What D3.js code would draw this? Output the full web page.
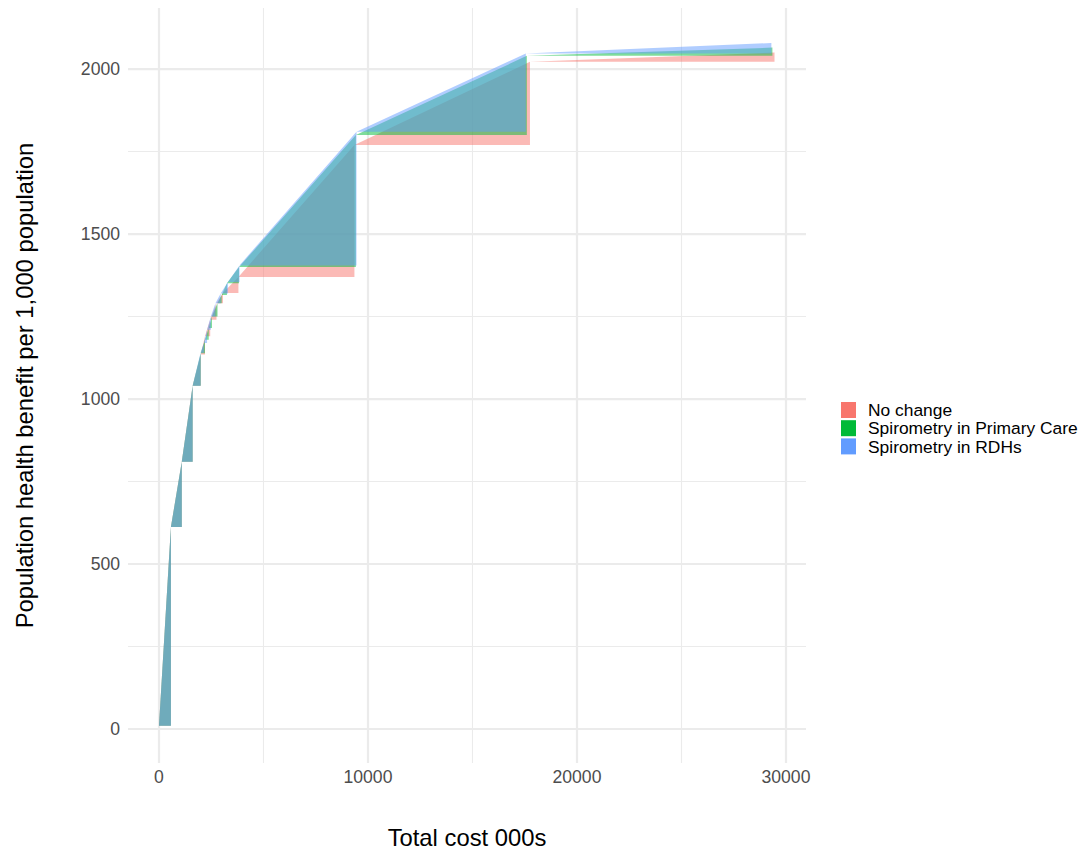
<!DOCTYPE html>
<html>
<head>
<meta charset="utf-8">
<script src="https://cdn.jsdelivr.net/npm/d3@7"></script>
<style>
  body { margin: 0; background: #fff; }
  svg { font-family: "Liberation Sans", Arial, sans-serif; }
</style>
</head>
<body>
<svg id="chart" width="1089" height="851"></svg>
<script>
// series (cost in 000s, population health benefit per 1,000 population)
const seriesNames = ["No change", "Spirometry in Primary Care", "Spirometry in RDHs"];
const seriesColors = ["#F8766D", "#00BA38", "#619CFF"];

const noChangeCost    = [0, 570, 1090, 1610, 2000, 2200, 2450, 2750, 3060, 3800, 9350, 17750, 29450];
const noChangeBenefit = [10, 612, 810, 1040, 1135, 1190, 1240, 1290, 1321, 1370, 1770, 2022, 2050];

const primaryCost    = [0, 570, 1090, 1610, 1995, 2200, 2380, 2535, 2800, 3000, 3250, 3830, 9420, 17600, 29350];
const primaryBenefit = [10, 612, 810, 1040, 1139, 1180, 1215, 1250, 1290, 1315, 1351, 1400, 1800, 2040, 2065];

const rdhCost    = [0, 570, 1090, 1610, 1990, 2150, 2300, 2480, 2700, 2950, 3300, 3850, 9450, 17550, 29300];
const rdhBenefit = [10, 612, 810, 1040, 1140, 1170, 1210, 1250, 1290, 1320, 1355, 1405, 1810, 2047, 2079];

const xTicks = [0, 10000, 20000, 30000];
const xMinor = [5000, 15000, 25000];
const yTicks = [0, 500, 1000, 1500, 2000];
const yMinor = [250, 750, 1250, 1750];

const series = [
  {name: seriesNames[0], color: seriesColors[0], cost: noChangeCost, benefit: noChangeBenefit},
  {name: seriesNames[1], color: seriesColors[1], cost: primaryCost, benefit: primaryBenefit},
  {name: seriesNames[2], color: seriesColors[2], cost: rdhCost, benefit: rdhBenefit}
];

const panel = {left: 128, right: 806, top: 8, bottom: 763};

const svg = d3.select("#chart");

const x = d3.scaleLinear().domain([-1483, 30957]).range([panel.left, panel.right]);
const y = d3.scaleLinear().domain([-103, 2185]).range([panel.bottom, panel.top]);

// grid
const grid = svg.append("g");
grid.selectAll("line.xminor").data(xMinor).enter().append("line")
  .attr("x1", d => x(d)).attr("x2", d => x(d))
  .attr("y1", panel.top).attr("y2", panel.bottom)
  .attr("stroke", "#EBEBEB").attr("stroke-width", 1.1);
grid.selectAll("line.yminor").data(yMinor).enter().append("line")
  .attr("y1", d => y(d)).attr("y2", d => y(d))
  .attr("x1", panel.left).attr("x2", panel.right)
  .attr("stroke", "#EBEBEB").attr("stroke-width", 1.1);
grid.selectAll("line.xmajor").data(xTicks).enter().append("line")
  .attr("x1", d => x(d)).attr("x2", d => x(d))
  .attr("y1", panel.top).attr("y2", panel.bottom)
  .attr("stroke", "#EBEBEB").attr("stroke-width", 2.2);
grid.selectAll("line.ymajor").data(yTicks).enter().append("line")
  .attr("y1", d => y(d)).attr("y2", d => y(d))
  .attr("x1", panel.left).attr("x2", panel.right)
  .attr("stroke", "#EBEBEB").attr("stroke-width", 2.2);

// one triangle per step: previous point, next point, corner below next point
function stepTriangles(s) {
  let p = "";
  for (let i = 1; i < s.cost.length; i++) {
    p += "M" + x(s.cost[i-1]) + "," + y(s.benefit[i-1]) +
         "L" + x(s.cost[i]) + "," + y(s.benefit[i]) +
         "L" + x(s.cost[i]) + "," + y(s.benefit[i-1]) + "Z";
  }
  return p;
}

svg.append("g").selectAll("path.area")
  .data(series)
  .enter().append("path")
  .attr("d", stepTriangles)
  .attr("fill", d => d.color)
  .attr("fill-opacity", 0.5)
  .attr("stroke", "none");

// axis labels
svg.append("g").selectAll("text.xt").data(xTicks).enter().append("text")
  .attr("x", d => x(d)).attr("y", 783)
  .attr("text-anchor", "middle")
  .attr("font-size", 17.6).attr("fill", "#4D4D4D")
  .text(d => d);

svg.append("g").selectAll("text.yt").data(yTicks).enter().append("text")
  .attr("x", 120).attr("y", d => y(d))
  .attr("dy", "0.36em")
  .attr("text-anchor", "end")
  .attr("font-size", 17.6).attr("fill", "#4D4D4D")
  .text(d => d);

svg.append("text")
  .attr("x", (panel.left + panel.right) / 2).attr("y", 846)
  .attr("text-anchor", "middle").attr("font-size", 23.8).attr("fill", "#000")
  .text("Total cost 000s");

svg.append("text")
  .attr("transform", `translate(33,${(panel.top + panel.bottom) / 2}) rotate(-90)`)
  .attr("text-anchor", "middle").attr("font-size", 23.8).attr("fill", "#000")
  .text("Population health benefit per 1,000 population");

// legend
const legend = svg.append("g").attr("transform", "translate(841,401)");
const item = legend.selectAll("g").data(series).enter().append("g")
  .attr("transform", (d, i) => `translate(0,${i * 18.2})`);
item.append("rect")
  .attr("width", 15).attr("height", 16).attr("y", 1)
  .attr("fill", d => d.color);
item.append("text")
  .attr("x", 27).attr("y", 9).attr("dy", "0.36em")
  .attr("font-size", 17.4).attr("fill", "#000")
  .text(d => d.name);
</script>
</body>
</html>
